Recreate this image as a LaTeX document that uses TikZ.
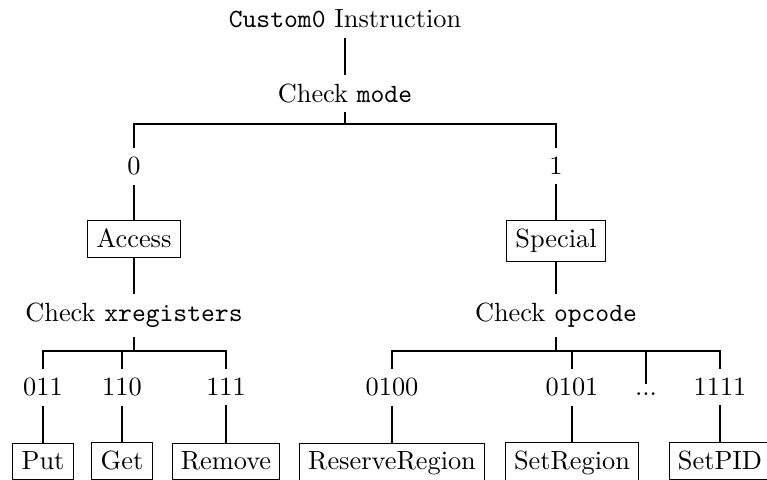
\documentclass[tikz,border=0pt]{standalone}
\begin{document}
\begin{tikzpicture}[x=0.3797pt,y=-0.3797pt,
  lbl/.style={anchor=base, inner sep=0.3333em},
  box/.style={lbl, draw},
  tie/.style={line width=0.4pt}]
\useasboundingbox (0,0) rectangle (767,480);

% top of the decision tree
\node[lbl] (root) at (345,28) {\texttt{Custom0} Instruction};
\node[lbl] (mode) at (345,102.5) {Check \texttt{mode}};
\node[lbl] (zero) at (134,175) {0};
\node[lbl] (one)  at (556,175) {1};
\node[box] (access)  at (134,248) {Access};
\node[box] (special) at (556,248) {Special};

% second level checks
\node[lbl] (xreg) at (134,322) {Check \texttt{xregisters}};
\node[lbl] (opc)  at (556,322) {Check \texttt{opcode}};

% register values
\node[lbl] (c011) at (43,396)  {011};
\node[lbl] (c110) at (122,396) {110};
\node[lbl] (c111) at (226,396) {111};
% opcode values
\node[lbl] (c0100) at (392,396) {0100};
\node[lbl] (c0101) at (572,396) {0101};
\node[lbl] (cdots) at (646,396) {...};
\node[lbl] (c1111) at (720,396) {1111};

% leaves
\node[box] (put)    at (43,470)  {Put};
\node[box] (get)    at (122,470) {Get};
\node[box] (remove) at (226,470) {Remove};
\node[box] (reserve) at (392,470) {ReserveRegion};
\node[box] (setreg)  at (572,470) {SetRegion};
\node[box] (setpid)  at (720,470) {SetPID};

% fork points
\coordinate (forkA) at (345,124);
\coordinate (forkB) at (134,351);
\coordinate (forkC) at (556,351);

% connectors
\draw[tie] (root.south) -- (mode.north);
\draw[tie] (mode.south) -- (forkA);
\draw[tie] (forkA) -| (zero.north);
\draw[tie] (forkA) -| (one.north);
\draw[tie] (zero.south) -- (access.north);
\draw[tie] (one.south) -- (special.north);
\draw[tie] (access.south) -- (xreg.north);
\draw[tie] (special.south) -- (opc.north);

\draw[tie] (xreg.south) -- (forkB);
\draw[tie] (forkB) -| (c011.north);
\draw[tie] (forkB) -| (c110.north);
\draw[tie] (forkB) -| (c111.north);

\draw[tie] (opc.south) -- (forkC);
\draw[tie] (forkC) -| (c0100.north);
\draw[tie] (forkC) -| (c0101.north);
\draw[tie] (forkC) -| (cdots.north);
\draw[tie] (forkC) -| (c1111.north);

\draw[tie] (c011.south) -- (put.north);
\draw[tie] (c110.south) -- (get.north);
\draw[tie] (c111.south) -- (remove.north);
\draw[tie] (c0100.south) -- (reserve.north);
\draw[tie] (c0101.south) -- (setreg.north);
\draw[tie] (c1111.south) -- (setpid.north);
\end{tikzpicture}
\end{document}
